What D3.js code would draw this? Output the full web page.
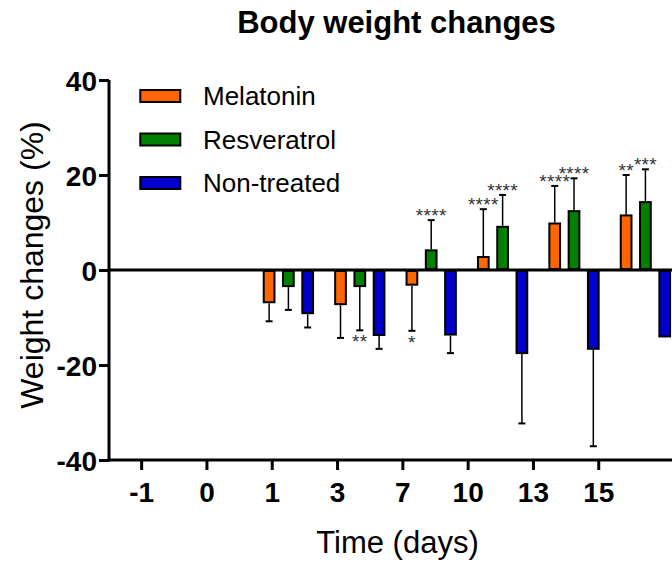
<!DOCTYPE html>
<html>
<head>
<meta charset="utf-8">
<script src="https://cdn.jsdelivr.net/npm/d3@7"></script>
<style>
  html, body { margin: 0; padding: 0; background: #fff; overflow: hidden; }
  svg { display: block; font-family: "Liberation Sans", Arial, Helvetica, sans-serif; }
</style>
</head>
<body>
<svg id="chart" width="672" height="562"></svg>
<script>
// Time points (days) on the x axis
const days = ["-1", "0", "1", "3", "7", "10", "13", "15"];

// Series names
const seriesNames = ["Melatonin", "Resveratrol", "Non-treated"];
const seriesColors = ["#ff6600", "#008000", "#0000cc"];

// Mean weight change (%) per time point
const melatonin   = [null, null, -7.0, -7.4, -3.3, 2.95, 10.0, 11.7];
const resveratrol = [null, null, -3.6, -3.6, 4.35, 9.3, 12.6, 14.5];
const nonTreated  = [null, null, -9.3, -13.9, -13.8, -17.7, -16.8, -14.2];

// One-sided error (SD) per time point
const melatoninErr   = [null, null, 3.8, 6.9, 9.5, 9.85, 7.7, 8.3];
const resveratrolErr = [null, null, 4.8, 9.1, 6.15, 6.5, 6.7, 6.7];
const nonTreatedErr  = [null, null, 2.8, 2.7, 3.7, 14.6, 20.3, null];

// Significance marks
const melatoninSig   = ["", "", "", "", "*", "****", "****", "**"];
const resveratrolSig = ["", "", "", "**", "****", "****", "****", "***"];
const nonTreatedSig  = ["", "", "", "", "", "", "", ""];

// Y axis ticks
const yTicks = [-40, -20, 0, 20, 40];

const means = [melatonin, resveratrol, nonTreated];
const errs = [melatoninErr, resveratrolErr, nonTreatedErr];
const sigs = [melatoninSig, resveratrolSig, nonTreatedSig];

const W = 672, H = 562;
const svg = d3.select("#chart");

const y = d3.scaleLinear().domain([-40, 40]).range([460, 80]);

// Bar groups
const xGroup = d3.scaleBand().domain(days).range([109, 682])
  .paddingInner(0.2815).paddingOuter(0.153);
const xSub = d3.scaleBand().domain(seriesNames).range([0, xGroup.bandwidth()])
  .paddingInner(0.34);

// Tick positions of the category axis
const xTick = d3.scaleBand().domain(days).range([109, 109 + 8 * 65.3]);

const rows = [];
seriesNames.forEach((s, si) => {
  days.forEach((d, di) => {
    const v = means[si][di];
    if (v === null) return;
    rows.push({ s, si, d, v, e: errs[si][di], sig: sigs[si][di] });
  });
});

const bx = r => xGroup(r.d) + xSub(r.s);
const bw = xSub.bandwidth();

// Error bars (drawn away from zero)
const eg = svg.append("g").attr("stroke", "#000").attr("stroke-width", 1.5);
rows.filter(r => r.e !== null).forEach(r => {
  const cx = bx(r) + bw / 2;
  const end = r.v >= 0 ? r.v + r.e : r.v - r.e;
  eg.append("line").attr("x1", cx).attr("x2", cx)
    .attr("y1", y(r.v)).attr("y2", y(end));
  eg.append("line").attr("x1", cx - 3.5).attr("x2", cx + 3.5)
    .attr("y1", y(end)).attr("y2", y(end)).attr("stroke-width", 2);
});

// Bars
svg.append("g").selectAll("rect").data(rows).join("rect")
  .attr("x", r => bx(r) + 1)
  .attr("width", bw - 2)
  .attr("y", r => Math.min(y(r.v), y(0)) + 1)
  .attr("height", r => Math.max(Math.abs(y(r.v) - y(0)) - 2, 0))
  .attr("fill", r => seriesColors[r.si])
  .attr("stroke", "#000").attr("stroke-width", 2);

// Significance asterisks
svg.append("g").selectAll("text").data(rows.filter(r => r.sig)).join("text")
  .attr("x", r => bx(r) + bw / 2)
  .attr("y", r => {
    const end = r.e === null ? r.v : (r.v >= 0 ? r.v + r.e : r.v - r.e);
    return r.v >= 0 ? y(end) + 2 : y(end) + 18;
  })
  .attr("text-anchor", "middle")
  .attr("font-size", 19)
  .attr("letter-spacing", 0.3)
  .attr("fill", "#333")
  .text(r => r.sig);

// Zero line
svg.append("line").attr("x1", 109).attr("x2", W)
  .attr("y1", y(0)).attr("y2", y(0))
  .attr("stroke", "#000").attr("stroke-width", 3);

// Y axis
const yAxis = svg.append("g").attr("transform", "translate(109,0)")
  .call(d3.axisLeft(y).tickValues(yTicks).tickFormat(d => String(d))
    .tickSize(10).tickPadding(2).tickSizeOuter(0));
yAxis.select(".domain").attr("stroke-width", 3).attr("d", `M0,${y(40)}V${y(-40) + 1.5}`);
yAxis.selectAll(".tick line").attr("stroke-width", 3);
yAxis.selectAll(".tick text")
  .attr("font-size", 28).attr("font-weight", "bold").attr("fill", "#000")
  .attr("font-family", "'Liberation Sans', Arial, sans-serif")
  .attr("dy", "0.36em");

// X axis
const xAxis = svg.append("g").attr("transform", `translate(0,${y(-40)})`)
  .call(d3.axisBottom(xTick).tickSize(10).tickPadding(2).tickSizeOuter(0));
xAxis.select(".domain").remove();
xAxis.append("line").attr("x1", 107.5).attr("x2", W).attr("y1", 0).attr("y2", 0)
  .attr("stroke", "#000").attr("stroke-width", 3);
xAxis.selectAll(".tick line").attr("stroke-width", 3);
xAxis.selectAll(".tick text")
  .attr("font-size", 28).attr("font-weight", "bold").attr("fill", "#000")
  .attr("font-family", "'Liberation Sans', Arial, sans-serif")
  .attr("y", 41.5).attr("dy", null);

// Title
svg.append("text").attr("x", 396.5).attr("y", 33)
  .attr("text-anchor", "middle").attr("font-size", 31).attr("font-weight", "bold")
  .text("Body weight changes");

// Axis titles
svg.append("text").attr("x", 397.5).attr("y", 553)
  .attr("text-anchor", "middle").attr("font-size", 31)
  .text("Time (days)");
svg.append("text").attr("transform", "translate(43,265) rotate(-90)")
  .attr("text-anchor", "middle").attr("font-size", 32)
  .text("Weight changes (%)");

// Legend
const lg = svg.append("g");
seriesNames.forEach((s, i) => {
  const yy = 89 + i * 43.5;
  lg.append("rect").attr("x", 140.3).attr("y", yy + 1).attr("width", 40).attr("height", 12)
    .attr("fill", seriesColors[i]).attr("stroke", "#000").attr("stroke-width", 2);
  lg.append("text").attr("x", 203).attr("y", yy + 16)
    .attr("font-size", 26).text(s);
});
</script>
</body>
</html>
